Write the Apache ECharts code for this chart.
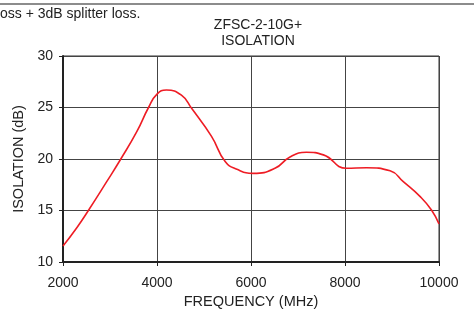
<!DOCTYPE html>
<html>
<head>
<meta charset="utf-8">
<script src="https://cdn.jsdelivr.net/npm/echarts@6/dist/echarts.min.js"></script>
<style>
  html, body { margin: 0; padding: 0; background: #fff; }
  #chart { width: 474px; height: 309px; }
</style>
</head>
<body>
<div id="chart"></div>
<script>
// frequency (MHz) and isolation (dB)
const freq = [2000, 2290, 2540, 2930, 3230, 3570, 3820, 4000, 4200, 4520, 4740, 5160, 5450, 5700, 6050, 6510, 6830, 7180, 7540, 8030, 8460, 8960, 9240, 9600, 9840, 10000];
const isolation = [11.55, 13.3, 15.0, 17.8, 20.0, 22.65, 25.0, 26.3, 26.7, 26.2, 24.9, 22.2, 19.75, 19.0, 18.6, 19.1, 20.2, 20.65, 20.4, 19.1, 19.15, 18.85, 17.8, 16.35, 15.05, 13.7];
const xTicks = [2000, 4000, 6000, 8000, 10000];
const yTicks = [10, 15, 20, 25, 30];

const chart = echarts.init(document.getElementById("chart"));
const font = "Liberation Sans, Arial, sans-serif";

const option = {
  backgroundColor: "#fff",
  animation: false,
  textStyle: { fontFamily: font },
  title: {
    text: "ZFSC-2-10G+\nISOLATION",
    left: 253,
    top: 12,
    textAlign: "center",
    textStyle: { fontSize: 14, fontWeight: "normal", color: "#222", lineHeight: 16, fontFamily: font },
  },
  graphic: [
    {
      type: "line",
      shape: { x1: 0, y1: 4, x2: 474, y2: 4 },
      style: { stroke: "#666", lineWidth: 1.5 },
    },
    {
      type: "text",
      left: 0,
      top: 7,
      style: { text: "oss + 3dB splitter loss.", fontSize: 14, fill: "#222", fontFamily: font },
    },
  ],
  grid: {
    left: 63,
    right: 35,
    top: 56,
    bottom: 47,
    outerBoundsMode: "none",
    containLabel: false,
    show: true,
    borderColor: "#333",
    borderWidth: 1,
  },
  xAxis: {
    type: "value",
    min: xTicks[0],
    max: xTicks[xTicks.length - 1],
    interval: 2000,
    name: "FREQUENCY (MHz)",
    nameLocation: "middle",
    nameGap: 32,
    nameTextStyle: { fontSize: 14.5, color: "#222", fontFamily: font },
    axisLine: { lineStyle: { color: "#222", width: 2 } },
    axisTick: { show: true, length: 4, lineStyle: { color: "#222" } },
    axisLabel: { fontSize: 14, color: "#222", margin: 14, fontFamily: font, formatter: (v) => String(v) },
    splitLine: { show: true, lineStyle: { color: "#444", width: 1 } },
  },
  yAxis: {
    type: "value",
    min: yTicks[0],
    max: yTicks[yTicks.length - 1],
    interval: 5,
    name: "ISOLATION (dB)",
    nameLocation: "middle",
    nameGap: 31,
    nameTextStyle: { fontSize: 14.5, color: "#222", fontFamily: font },
    axisLine: { show: true, lineStyle: { color: "#222", width: 2 } },
    axisTick: { show: true, length: 4, lineStyle: { color: "#222" } },
    axisLabel: { fontSize: 14, color: "#222", margin: 10, fontFamily: font },
    splitLine: { show: true, lineStyle: { color: "#444", width: 1 } },
  },
  series: [
    {
      type: "line",
      data: freq.map((f, i) => [f, isolation[i]]),
      smooth: 0.5,
      showSymbol: false,
      lineStyle: { color: "#ee1c24", width: 1.6 },
    },
  ],
};
chart.setOption(option);
</script>
</body>
</html>
